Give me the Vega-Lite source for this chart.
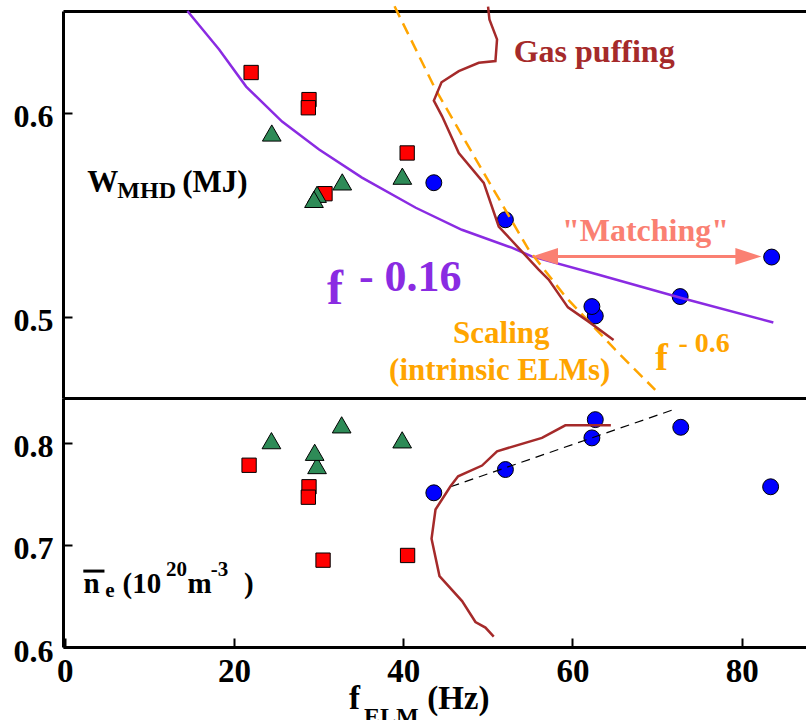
{
  "$schema": "https://vega.github.io/schema/vega-lite/v6.json",
  "padding": {"left": 13, "top": 1, "right": 0, "bottom": 0},
  "spacing": 0,
  "bounds": "flush",
  "config": {
    "view": {"stroke": null},
    "font": "Liberation Serif, Times New Roman, serif",
    "text": {"font": "Liberation Serif, Times New Roman, serif"},
    "axis": {
      "domainColor": "#000000", "domainWidth": 3,
      "ticks": true, "tickColor": "#000000", "tickWidth": 2, "tickSize": -9,
      "labelFont": "Liberation Serif, Times New Roman, serif", "labelFontWeight": "bold", "labelColor": "#000000",
      "grid": false, "labelOverlap": false, "labelFlush": false, "labelBound": false, "title": null
    },
    "axisY": {"labelFontSize": 32, "labelPadding": 19, "labelOffset": 4},
    "axisX": {"labelFontSize": 33, "labelPadding": 17}
  },
  "datasets": {
    "wSq": [{"f": 22.03, "v": 0.6198}, {"f": 28.87, "v": 0.6065}, {"f": 28.79, "v": 0.6025}, {"f": 40.47, "v": 0.5803}, {"f": 30.76, "v": 0.5603}],
    "wTri": [{"f": 24.47, "v": 0.5901}, {"f": 32.8, "v": 0.5661}, {"f": 29.82, "v": 0.56}, {"f": 29.46, "v": 0.5575}, {"f": 39.9, "v": 0.5689}],
    "wCirc": [{"f": 43.62, "v": 0.5657}, {"f": 52.08, "v": 0.5475}, {"f": 83.54, "v": 0.5292}, {"f": 72.73, "v": 0.5098}, {"f": 62.7, "v": 0.5003}, {"f": 62.3, "v": 0.5049}],
    "nSq": [{"f": 21.79, "v": 0.7781}, {"f": 28.87, "v": 0.757}, {"f": 28.79, "v": 0.7468}, {"f": 30.53, "v": 0.6851}, {"f": 40.52, "v": 0.6897}],
    "nTri": [{"f": 24.43, "v": 0.8022}, {"f": 32.73, "v": 0.8177}, {"f": 39.88, "v": 0.803}, {"f": 29.82, "v": 0.7778}, {"f": 29.54, "v": 0.7908}],
    "nCirc": [{"f": 43.62, "v": 0.7511}, {"f": 52.08, "v": 0.7739}, {"f": 62.7, "v": 0.8228}, {"f": 62.3, "v": 0.8049}, {"f": 72.8, "v": 0.8153}, {"f": 83.42, "v": 0.757}],
    "fit016": [{"f": 14.5, "v": 0.65}, {"f": 18.25, "v": 0.6311}, {"f": 21.44, "v": 0.6129}, {"f": 25.69, "v": 0.5957}, {"f": 30.06, "v": 0.582}, {"f": 35.13, "v": 0.5682}, {"f": 41.49, "v": 0.5534}, {"f": 46.93, "v": 0.5426}, {"f": 52.83, "v": 0.5338}, {"f": 55.19, "v": 0.5295}, {"f": 63.1, "v": 0.5205}, {"f": 72.77, "v": 0.5092}, {"f": 83.74, "v": 0.4971}],
    "fit06": [{"f": 38.98, "v": 0.6523}, {"f": 43.82, "v": 0.6115}, {"f": 49.52, "v": 0.5705}, {"f": 54.83, "v": 0.5328}, {"f": 59.16, "v": 0.5098}, {"f": 65.06, "v": 0.4837}, {"f": 69.78, "v": 0.464}],
    "gasW": [{"i": 1, "f": 50.03, "v": 0.6521}, {"i": 2, "f": 50.19, "v": 0.6459}, {"i": 3, "f": 51.09, "v": 0.6361}, {"i": 4, "f": 50.9, "v": 0.6254}, {"i": 5, "f": 48.93, "v": 0.6246}, {"i": 6, "f": 46.57, "v": 0.6205}, {"i": 7, "f": 44.53, "v": 0.615}, {"i": 8, "f": 43.62, "v": 0.606}, {"i": 9, "f": 44.6, "v": 0.5983}, {"i": 10, "f": 46.57, "v": 0.5803}, {"i": 11, "f": 49.52, "v": 0.5656}, {"i": 12, "f": 51.29, "v": 0.5442}, {"i": 13, "f": 53.65, "v": 0.5336}, {"i": 14, "f": 56.01, "v": 0.523}, {"i": 15, "f": 57.19, "v": 0.5181}, {"i": 16, "f": 59.47, "v": 0.5045}, {"i": 17, "f": 61.91, "v": 0.4975}, {"i": 18, "f": 64.86, "v": 0.4885}],
    "gasN": [{"i": 1, "f": 50.7, "v": 0.6102}, {"i": 2, "f": 49.72, "v": 0.619}, {"i": 3, "f": 48.54, "v": 0.6245}, {"i": 4, "f": 46.96, "v": 0.645}, {"i": 5, "f": 44.29, "v": 0.6695}, {"i": 6, "f": 43.35, "v": 0.7061}, {"i": 7, "f": 43.82, "v": 0.7347}, {"i": 8, "f": 45.59, "v": 0.7575}, {"i": 9, "f": 46.49, "v": 0.7673}, {"i": 10, "f": 49.32, "v": 0.7778}, {"i": 11, "f": 51.09, "v": 0.7918}, {"i": 12, "f": 56.4, "v": 0.8049}, {"i": 13, "f": 59.16, "v": 0.8172}, {"i": 14, "f": 64.54, "v": 0.8172}],
    "trendN": [{"f": 45.59, "v": 0.757}, {"f": 71.94, "v": 0.8326}]
  },
  "vconcat": [
    {
      "width": 743,
      "height": 387,
      "encoding": {
        "x": {"field": "f", "type": "quantitative", "scale": {"domain": [-0.2, 87.6], "nice": false, "zero": false}, "axis": null},
        "y": {"field": "v", "type": "quantitative", "scale": {"domain": [0.46, 0.65], "nice": false, "zero": false}, "axis": {"values": [0.5, 0.6], "format": ".1f"}}
      },
      "layer": [
        {
          "data": {"name": "wSq"},
          "mark": {"type": "point", "shape": "square", "filled": true, "fill": "#ff0000", "stroke": "#000000", "strokeWidth": 1, "size": 205, "opacity": 1},
          "encoding": {
            "x": {"field": "f", "type": "quantitative", "scale": {"domain": [-0.2, 87.6], "nice": false, "zero": false}, "axis": {"orient": "bottom", "labels": false, "ticks": false, "domain": true}}
          }
        },
        {
          "data": {"name": "wTri"},
          "mark": {"type": "point", "shape": "triangle-up", "filled": true, "fill": "#2e8b57", "stroke": "#000000", "strokeWidth": 1, "size": 350, "opacity": 1}
        },
        {
          "data": {"name": "wCirc"},
          "mark": {"type": "point", "shape": "circle", "filled": true, "fill": "#0000ff", "stroke": "#000000", "strokeWidth": 1, "size": 254, "opacity": 1},
          "encoding": {
            "x": {"field": "f", "type": "quantitative", "scale": {"domain": [-0.2, 87.6], "nice": false, "zero": false}, "axis": {"orient": "top", "labels": false, "ticks": false, "domain": true}}
          }
        },
        {
          "data": {"name": "fit016"},
          "mark": {"type": "line", "color": "#8a2be2", "strokeWidth": 2.5}
        },
        {
          "data": {"name": "fit06"},
          "mark": {"type": "line", "color": "#ffa500", "strokeWidth": 2.5, "strokeDash": [12, 7]}
        },
        {
          "data": {"name": "gasW"},
          "mark": {"type": "line", "color": "#a52a2a", "strokeWidth": 2.5},
          "encoding": {"order": {"field": "i", "type": "quantitative"}}
        },
        {
          "data": {"values": [{"f": 56.76, "f2": 80.79, "v": 0.5295}]},
          "mark": {"type": "rule", "color": "#fa8072", "strokeWidth": 3},
          "encoding": {"x2": {"field": "f2"}}
        },
        {
          "data": {"values": [{"f": 56.76, "v": 0.5295}]},
          "mark": {"type": "point", "shape": "M-1,0L1,-0.64L1,0.64Z", "filled": true, "fill": "#fa8072", "strokeWidth": 0, "size": 676, "opacity": 1}
        },
        {
          "data": {"values": [{"f": 80.79, "v": 0.5295}]},
          "mark": {"type": "point", "shape": "M1,0L-1,-0.64L-1,0.64Z", "filled": true, "fill": "#fa8072", "strokeWidth": 0, "size": 676, "opacity": 1}
        },
        {
          "data": {"values": [{"f": 2.68, "v": 0.5613, "t": "W"}, {"f": 13.89, "v": 0.5613, "t": "(MJ)"}]},
          "mark": {"type": "text", "font": "Liberation Serif, Times New Roman, serif", "fontWeight": "bold", "fontSize": 31, "color": "#000000", "align": "left", "baseline": "alphabetic"},
          "encoding": {"text": {"field": "t"}}
        },
        {
          "data": {"values": [{"f": 6.22, "v": 0.5584, "t": "MHD"}]},
          "mark": {"type": "text", "font": "Liberation Serif, Times New Roman, serif", "fontWeight": "bold", "fontSize": 24, "color": "#000000", "align": "left", "baseline": "alphabetic"},
          "encoding": {"text": {"field": "t"}}
        },
        {
          "data": {"values": [{"f": 53.06, "v": 0.6252, "t": "Gas puffing"}]},
          "mark": {"type": "text", "font": "Liberation Serif, Times New Roman, serif", "fontWeight": "bold", "fontSize": 32, "color": "#a52a2a", "align": "left", "baseline": "alphabetic"},
          "encoding": {"text": {"field": "t"}}
        },
        {
          "data": {"values": [{"f": 58.76, "v": 0.5369, "t": "\"Matching\""}]},
          "mark": {"type": "text", "font": "Liberation Serif, Times New Roman, serif", "fontWeight": "bold", "fontSize": 32, "color": "#fa8072", "align": "left", "baseline": "alphabetic"},
          "encoding": {"text": {"field": "t"}}
        },
        {
          "data": {"values": [{"f": 31.0, "v": 0.5062, "t": "f"}]},
          "mark": {"type": "text", "font": "Liberation Serif, Times New Roman, serif", "fontWeight": "bold", "fontSize": 48, "color": "#8a2be2", "align": "left", "baseline": "alphabetic"},
          "encoding": {"text": {"field": "t"}}
        },
        {
          "data": {"values": [{"f": 34.77, "v": 0.5126, "t": "- 0.16"}]},
          "mark": {"type": "text", "font": "Liberation Serif, Times New Roman, serif", "fontWeight": "bold", "fontSize": 44, "color": "#8a2be2", "align": "left", "baseline": "alphabetic"},
          "encoding": {"text": {"field": "t"}}
        },
        {
          "data": {"values": [{"f": 51.59, "v": 0.4871, "t": "Scaling"}, {"f": 51.41, "v": 0.4689, "t": "(intrinsic ELMs)"}]},
          "mark": {"type": "text", "font": "Liberation Serif, Times New Roman, serif", "fontWeight": "bold", "fontSize": 31, "color": "#ffa500", "align": "center", "baseline": "alphabetic"},
          "encoding": {"text": {"field": "t"}}
        },
        {
          "data": {"values": [{"f": 69.78, "v": 0.4738, "t": "f"}]},
          "mark": {"type": "text", "font": "Liberation Serif, Times New Roman, serif", "fontWeight": "bold", "fontSize": 38, "color": "#ffa500", "align": "left", "baseline": "alphabetic"},
          "encoding": {"text": {"field": "t"}}
        },
        {
          "data": {"values": [{"f": 72.53, "v": 0.4828, "t": "- 0.6"}]},
          "mark": {"type": "text", "font": "Liberation Serif, Times New Roman, serif", "fontWeight": "bold", "fontSize": 28, "color": "#ffa500", "align": "left", "baseline": "alphabetic"},
          "encoding": {"text": {"field": "t"}}
        }
      ],
      "resolve": {"axis": {"x": "independent"}}
    },
    {
      "width": 743,
      "height": 249,
      "encoding": {
        "x": {"field": "f", "type": "quantitative", "scale": {"domain": [-0.2, 87.6], "nice": false, "zero": false}, "axis": {"values": [0, 20, 40, 60, 80]}},
        "y": {"field": "v", "type": "quantitative", "scale": {"domain": [0.6, 0.844], "nice": false, "zero": false}, "axis": {"values": [0.6, 0.7, 0.8], "format": ".1f"}}
      },
      "layer": [
        {
          "data": {"name": "nSq"},
          "mark": {"type": "point", "shape": "square", "filled": true, "fill": "#ff0000", "stroke": "#000000", "strokeWidth": 1, "size": 205, "opacity": 1}
        },
        {
          "data": {"name": "nTri"},
          "mark": {"type": "point", "shape": "triangle-up", "filled": true, "fill": "#2e8b57", "stroke": "#000000", "strokeWidth": 1, "size": 350, "opacity": 1}
        },
        {
          "data": {"name": "nCirc"},
          "mark": {"type": "point", "shape": "circle", "filled": true, "fill": "#0000ff", "stroke": "#000000", "strokeWidth": 1, "size": 254, "opacity": 1}
        },
        {
          "data": {"name": "trendN"},
          "mark": {"type": "line", "color": "#000000", "strokeWidth": 1.2, "strokeDash": [9, 6]}
        },
        {
          "data": {"name": "gasN"},
          "mark": {"type": "line", "color": "#a52a2a", "strokeWidth": 2.5},
          "encoding": {"order": {"field": "i", "type": "quantitative"}}
        },
        {
          "data": {"values": [{"f": 2.2, "f2": 4.7, "v": 0.6744}]},
          "mark": {"type": "rule", "color": "#000000", "strokeWidth": 3},
          "encoding": {"x2": {"field": "f2"}}
        },
        {
          "data": {"values": [{"f": 2.21, "v": 0.6525, "t": "n"}, {"f": 6.84, "v": 0.6525, "t": "(10"}, {"f": 14.51, "v": 0.6525, "t": "m"}, {"f": 21.2, "v": 0.6525, "t": ")"}]},
          "mark": {"type": "text", "font": "Liberation Serif, Times New Roman, serif", "fontWeight": "bold", "fontSize": 29, "color": "#000000", "align": "left", "baseline": "alphabetic"},
          "encoding": {"text": {"field": "t"}}
        },
        {
          "data": {"values": [{"f": 4.8, "v": 0.6486, "t": "e"}, {"f": 11.97, "v": 0.6695, "t": "20"}, {"f": 17.25, "v": 0.6695, "t": "-3"}]},
          "mark": {"type": "text", "font": "Liberation Serif, Times New Roman, serif", "fontWeight": "bold", "fontSize": 21, "color": "#000000", "align": "left", "baseline": "alphabetic"},
          "encoding": {"text": {"field": "t"}}
        },
        {
          "data": {"values": [{"f": 33.59, "v": 0.539, "t": "f"}, {"f": 42.83, "v": 0.539, "t": "(Hz)"}]},
          "mark": {"type": "text", "font": "Liberation Serif, Times New Roman, serif", "fontWeight": "bold", "fontSize": 33, "color": "#000000", "align": "left", "baseline": "alphabetic"},
          "encoding": {"text": {"field": "t"}}
        },
        {
          "data": {"values": [{"f": 35.36, "v": 0.5245, "t": "ELM"}]},
          "mark": {"type": "text", "font": "Liberation Serif, Times New Roman, serif", "fontWeight": "bold", "fontSize": 24, "color": "#000000", "align": "left", "baseline": "alphabetic"},
          "encoding": {"text": {"field": "t"}}
        }
      ]
    }
  ]
}
